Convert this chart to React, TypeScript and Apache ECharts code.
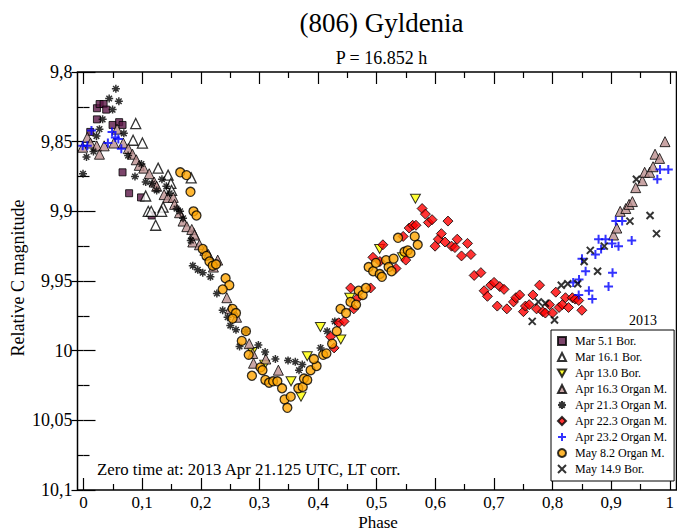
import React, { useEffect, useRef } from "react";
import * as echarts from "echarts";

const legendNames = [
  "Mar 5.1 Bor.",
  "Mar 16.1 Bor.",
  "Apr 13.0 Bor.",
  "Apr 16.3 Organ M.",
  "Apr 21.3 Organ M.",
  "Apr 22.3 Organ M.",
  "Apr 23.2 Organ M.",
  "May 8.2 Organ M.",
  "May 14.9 Bor.",
];

const xTicks = [0, 0.1, 0.2, 0.3, 0.4, 0.5, 0.6, 0.7, 0.8, 0.9, 1];
const yTicks = [9.8, 9.85, 9.9, 9.95, 10, 10.05, 10.1];

const mar05Bor = [
  [0.0115, 9.843], [0.0229, 9.826], [0.0229, 9.834], [0.0275, 9.823], [0.0343, 9.823],
  [0.0387, 9.827], [0.0496, 9.838], [0.0608, 9.836], [0.0666, 9.838], [0.0666, 9.872],
  [0.0778, 9.887], [0.0981, 9.89], [0.1163, 9.903],
];

const mar16Bor = [
  [0.0891, 9.837], [0.0846, 9.849], [0.1005, 9.851], [0.1273, 9.869], [0.1443, 9.874],
  [0.1491, 9.88], [0.1503, 9.885], [0.1837, 9.876], [0.1061, 9.889], [0.1358, 9.897],
  [0.1104, 9.9], [0.1155, 9.9], [0.1333, 9.9], [0.1231, 9.91], [0.1881, 9.916],
];

const apr13Bor = [
  [0.2878, 10.001], [0.309, 10.01], [0.354, 10.022], [0.371, 10.033], [0.3817, 10.004],
  [0.4041, 9.983], [0.4389, 9.992], [0.4542, 9.962], [0.5051, 9.927], [0.5441, 9.933],
  [0.5662, 9.891],
];

const apr16Organ = [
  [-0.0014, 9.854], [0.0065, 9.847], [0.0119, 9.851], [0.0226, 9.853], [0.0272, 9.859],
  [0.0353, 9.853], [0.0518, 9.851], [0.0572, 9.841], [0.0679, 9.851], [0.0764, 9.855],
  [0.0835, 9.859], [0.09, 9.863], [0.0951, 9.867], [0.1027, 9.869], [0.1121, 9.873],
  [0.1205, 9.879], [0.1248, 9.882], [0.1375, 9.888], [0.144, 9.89], [0.1531, 9.89],
  [0.1553, 9.895], [0.1638, 9.901], [0.1698, 9.907], [0.1762, 9.911], [0.1847, 9.913],
  [0.1893, 9.917], [0.1864, 9.922], [0.1978, 9.924], [0.2071, 9.928], [0.2131, 9.931],
  [0.2289, 9.935], [0.2216, 9.94], [0.2445, 9.962], [0.2501, 9.97], [0.2611, 9.976],
  [0.2827, 9.995], [0.2886, 10.002], [0.29, 10.009], [0.311, 10.006], [0.3324, 10.014],
  [0.9041, 9.917], [0.9097, 9.912], [0.9155, 9.9], [0.925, 9.898], [0.9307, 9.895],
  [0.9363, 9.893], [0.9419, 9.883], [0.9533, 9.878], [0.9572, 9.872], [0.9657, 9.872],
  [0.9715, 9.868], [0.9749, 9.859], [0.9827, 9.862], [0.9919, 9.85],
];

const apr21Organ = [
  [0.0552, 9.812], [0.0438, 9.819], [0.0603, 9.821], [0.0496, 9.827], [0.0326, 9.834],
  [0.0272, 9.841], [0.0221, 9.846], [0.017, 9.857], [0.0051, 9.861], [-0.0008, 9.873],
  [0.0688, 9.844], [0.0761, 9.86], [0.0878, 9.875], [0.0988, 9.866], [0.1061, 9.879],
  [0.1168, 9.88], [0.1248, 9.885], [0.1338, 9.877], [0.1413, 9.882], [0.1469, 9.887],
  [0.1587, 9.898], [0.1647, 9.9], [0.1698, 9.905], [0.183, 9.921], [0.1864, 9.939],
  [0.1949, 9.942], [0.2034, 9.944], [0.2165, 9.947], [0.2275, 9.959], [0.2374, 9.971],
  [0.2458, 9.976], [0.2504, 9.982], [0.2601, 9.985], [0.2662, 9.997], [0.2771, 9.986],
  [0.2983, 9.996], [0.3098, 10.001], [0.3273, 10.006], [0.3489, 10.007], [0.3613, 10.008],
  [0.3732, 10.01], [0.3676, 10.014], [0.4044, 9.998], [0.4156, 9.986], [0.4287, 9.979],
];

const apr22Organ = [
  [0.4214, 9.99], [0.4275, 9.998], [0.4355, 9.98], [0.4445, 9.979], [0.461, 9.97],
  [0.4681, 9.962], [0.4557, 9.955], [0.4898, 9.955], [0.4937, 9.933], [0.5056, 9.936],
  [0.5107, 9.924], [0.5331, 9.941], [0.5453, 9.918], [0.5497, 9.935], [0.5555, 9.912],
  [0.5615, 9.91], [0.5671, 9.91], [0.5776, 9.898], [0.5832, 9.902], [0.5883, 9.908],
  [0.5946, 9.906], [0.5997, 9.925], [0.6053, 9.92], [0.6104, 9.916], [0.6166, 9.922],
  [0.6217, 9.907], [0.6278, 9.925], [0.6336, 9.926], [0.6375, 9.92], [0.6448, 9.932],
  [0.655, 9.923], [0.6608, 9.931], [0.6664, 9.946], [0.6778, 9.944], [0.6834, 9.957],
  [0.689, 9.961], [0.6947, 9.953], [0.7003, 9.951], [0.71, 9.954], [0.7173, 9.956],
  [0.7058, 9.968], [0.7221, 9.97], [0.7334, 9.965], [0.7374, 9.962], [0.744, 9.96],
  [0.7504, 9.972], [0.7538, 9.968], [0.7603, 9.967], [0.7666, 9.96], [0.7728, 9.97],
  [0.7779, 9.953], [0.7835, 9.972], [0.7878, 9.973], [0.7949, 9.967], [0.8, 9.973],
  [0.8056, 9.958], [0.8112, 9.969], [0.8168, 9.967], [0.8221, 9.962], [0.8273, 9.969],
  [0.8338, 9.962], [0.8387, 9.963], [0.8447, 9.964], [0.8501, 9.971],
];

const apr23Organ = [
  [-0.0014, 9.853], [0.0065, 9.853], [0.0136, 9.842], [0.0416, 9.851], [0.0487, 9.843],
  [0.0543, 9.847], [0.0594, 9.848], [0.0645, 9.855],
  [0.8353, 9.951], [0.8452, 9.949], [0.8447, 9.96], [0.8503, 9.934], [0.8565, 9.943],
  [0.8621, 9.957], [0.8679, 9.963], [0.8732, 9.931], [0.8786, 9.92], [0.8829, 9.927],
  [0.8905, 9.92], [0.8956, 9.954], [0.9015, 9.923], [0.9024, 9.944], [0.908, 9.907],
  [0.9126, 9.925], [0.9188, 9.907], [0.9351, 9.921], [0.9788, 9.877], [0.9834, 9.87],
  [0.9975, 9.87],
];

const may08Organ = [
  [0.165, 9.872], [0.1757, 9.874], [0.1825, 9.886], [0.1876, 9.9], [0.1927, 9.903],
  [0.2034, 9.927], [0.2097, 9.932], [0.2148, 9.936], [0.2204, 9.939], [0.2261, 9.938],
  [0.2424, 9.948], [0.2487, 9.953], [0.2374, 9.956], [0.2543, 9.97], [0.2601, 9.973],
  [0.2543, 9.977], [0.2771, 9.986], [0.27, 9.993], [0.2818, 10.003], [0.2873, 10.018],
  [0.3019, 10.012], [0.3053, 10.014], [0.3102, 10.021], [0.3166, 10.023], [0.3234, 10.022],
  [0.3307, 10.022], [0.3387, 10.027], [0.343, 10.035], [0.3535, 10.033], [0.3477, 10.041],
  [0.3664, 10.027], [0.374, 10.026], [0.3761, 10.02], [0.3817, 10.021], [0.3874, 10.014],
  [0.3976, 10.011], [0.393, 10.006], [0.4088, 10.003], [0.4143, 10.002], [0.4241, 9.995],
  [0.4321, 9.986], [0.4384, 9.97], [0.4479, 9.973], [0.4554, 9.965], [0.4649, 9.967],
  [0.4694, 9.957], [0.4762, 9.96], [0.4818, 9.955], [0.4864, 9.94], [0.4941, 9.943],
  [0.4988, 9.937], [0.5054, 9.945], [0.509, 9.947], [0.5161, 9.935], [0.5204, 9.94],
  [0.5255, 9.943], [0.5289, 9.934], [0.5365, 9.919], [0.5475, 9.929], [0.5531, 9.928],
  [0.5577, 9.93], [0.565, 9.918], [0.5701, 9.924],
];

const may14Bor = [
  [0.7654, 9.979], [0.7759, 9.965], [0.7878, 9.966], [0.8034, 9.978], [0.815, 9.953],
  [0.826, 9.952], [0.843, 9.952], [0.854, 9.936], [0.8645, 9.928], [0.8769, 9.943],
  [0.8883, 9.925], [0.9321, 9.907], [0.9431, 9.877], [0.9664, 9.903], [0.9774, 9.916],
];

const seriesData = [mar05Bor, mar16Bor, apr13Bor, apr16Organ, apr21Organ, apr22Organ, apr23Organ, may08Organ, may14Bor];

const FONT = "Liberation Serif";

const fmt = (v: number) => String(parseFloat(Number(v).toFixed(3))).replace(".", ",");

export default function App() {
  const ref = useRef<HTMLDivElement>(null);
  useEffect(() => {
    const chart = echarts.init(ref.current as HTMLDivElement, null, { renderer: "svg" });
    const styles: any[] = [
      { symbol: "rect", symbolSize: 7, itemStyle: { color: "#5b1646", borderColor: "#000", borderWidth: 1 } },
      { symbol: "triangle", symbolSize: 10, itemStyle: { color: "#ffffff", borderColor: "#000", borderWidth: 1.3 } },
      { symbol: "path://M0,0L10,0L5,9Z", symbolSize: [10, 9], itemStyle: { color: "#ffff00", borderColor: "#000", borderWidth: 1 } },
      { symbol: "triangle", symbolSize: 10, itemStyle: { color: "#bc8f8f", borderColor: "#000", borderWidth: 1 } },
      { symbol: "path://M5,0L5,10M0,5L10,5M1.5,1.5L8.5,8.5M8.5,1.5L1.5,8.5", symbolSize: 8, itemStyle: { color: "#000", borderColor: "#000", borderWidth: 1.5 } },
      { symbol: "diamond", symbolSize: 10, itemStyle: { color: "#ff0000", borderColor: "#000", borderWidth: 1 } },
      { symbol: "path://M5,0L5,10M0,5L10,5", symbolSize: 9, itemStyle: { color: "#0000ff", borderColor: "#0000ff", borderWidth: 2 } },
      { symbol: "circle", symbolSize: 9, itemStyle: { color: "#ffa500", borderColor: "#000", borderWidth: 1.3 } },
      { symbol: "path://M0,0L10,10M10,0L0,10", symbolSize: 7, itemStyle: { color: "#000", borderColor: "#000", borderWidth: 2 } },
    ];
    const series = legendNames.map((name, i) => ({
      type: "scatter",
      name,
      data: seriesData[i],
      xAxisIndex: 0,
      yAxisIndex: 0,
      clip: false,
      silent: true,
      ...styles[i],
    }));
    const tickCommon = {
      axisLine: { show: false },
      axisTick: { show: true, inside: true, length: 12, lineStyle: { color: "#000", width: 1.2 } },
      minorTick: { show: true, splitNumber: 2, length: 6, lineStyle: { color: "#000", width: 1.2 } },
      splitLine: { show: false },
      minorSplitLine: { show: false },
    };
    const option: any = {
      animation: false,
      backgroundColor: "#ffffff",
      title: [
        { text: "(806) Gyldenia", left: 376.5, top: 4, textAlign: "center", textStyle: { fontFamily: FONT, fontWeight: "normal", fontSize: 27, color: "#000" } },
        { text: "P = 16.852 h", left: 376.5, top: 44, textAlign: "center", textStyle: { fontFamily: FONT, fontWeight: "normal", fontSize: 18, color: "#000" } },
      ],
      grid: { left: 83.5, top: 72, width: 589, height: 418, containLabel: false },
      xAxis: [
        {
          type: "value", position: "bottom", min: xTicks[0], max: xTicks[xTicks.length - 1], interval: 0.1,
          ...tickCommon,
          axisLabel: { formatter: fmt, fontFamily: FONT, fontSize: 17, color: "#000", margin: 4 },
        },
        {
          type: "value", position: "top", min: 0, max: 1, interval: 0.1,
          ...tickCommon,
          axisLabel: { show: false },
        },
      ],
      yAxis: [
        {
          type: "value", position: "left", offset: 6, inverse: true, min: yTicks[0], max: yTicks[yTicks.length - 1], interval: 0.05,
          ...tickCommon,
          axisLabel: { formatter: fmt, fontFamily: FONT, fontSize: 18, color: "#000", margin: 5 },
        },
        {
          type: "value", position: "right", offset: 4, inverse: true, min: 9.8, max: 10.1, interval: 0.05,
          ...tickCommon,
          axisLabel: { show: false },
        },
      ],
      legend: {
        orient: "vertical",
        left: 551,
        top: 330,
        padding: [5, 7, 6, 6],
        itemWidth: 8,
        itemHeight: 8,
        itemGap: 4,
        borderColor: "#000",
        borderWidth: 1,
        backgroundColor: "#ffffff",
        selectedMode: false,
        textStyle: { fontFamily: FONT, fontSize: 12, color: "#000", height: 12, lineHeight: 12, padding: [0, 0, 0, 4] },
        data: legendNames,
      },
      graphic: [
        { type: "rect", silent: true, z: 50, shape: { x: 77.5, y: 72, width: 599, height: 418 }, style: { fill: "none", stroke: "#000", lineWidth: 1.5 } },
        { type: "text", x: 18, y: 278, rotation: Math.PI / 2, style: { text: "Relative C magnitude", font: `18px "${FONT}"`, fill: "#000", align: "center", verticalAlign: "middle" } },
        { type: "text", x: 378, y: 522, style: { text: "Phase", font: `17px "${FONT}"`, fill: "#000", align: "center", verticalAlign: "middle" } },
        { type: "text", x: 97, y: 469, style: { text: "Zero time at: 2013 Apr 21.125 UTC, LT corr.", font: `16.8px "${FONT}"`, fill: "#000", align: "left", verticalAlign: "middle" } },
        { type: "text", x: 629, y: 320, style: { text: "2013", font: `14px "${FONT}"`, fill: "#000", align: "left", verticalAlign: "middle" } },
      ],
      series,
    };
    chart.setOption(option);
    return () => chart.dispose();
  }, []);
  return <div ref={ref} style={{ position: "absolute", left: 0, top: 0, width: 677, height: 531 }} />;
}
